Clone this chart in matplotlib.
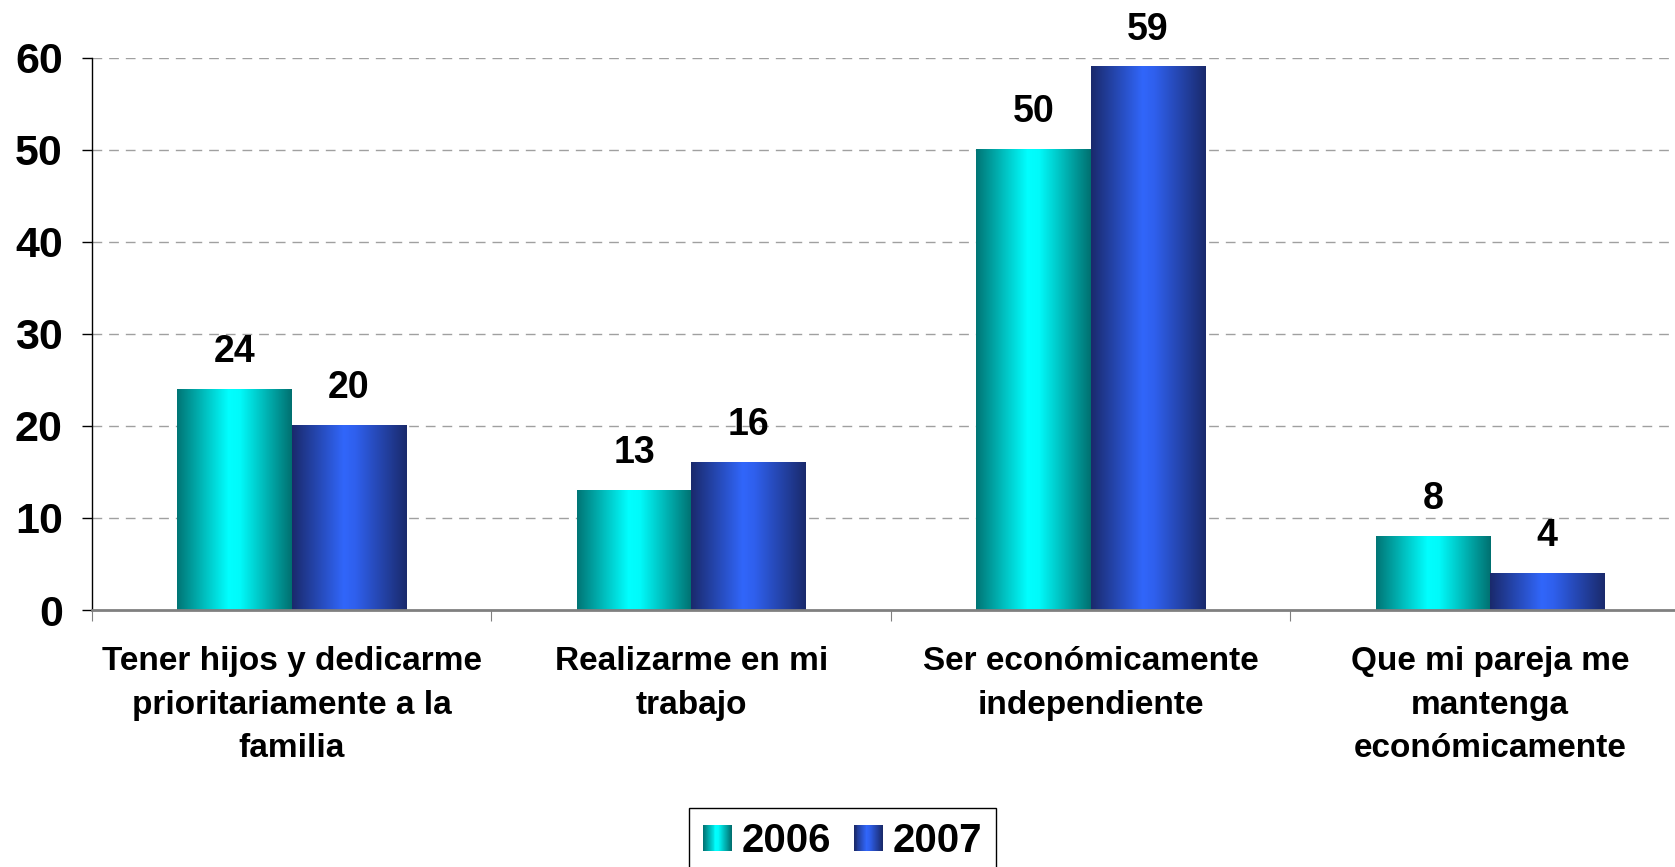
import numpy as np
import matplotlib.pyplot as plt
from matplotlib.colors import LinearSegmentedColormap
from matplotlib.patches import Rectangle
from matplotlib.legend_handler import HandlerPatch

# Datos del gráfico
categorias = ['Tener hijos y dedicarme\nprioritariamente a la\nfamilia',
              'Realizarme en mi\ntrabajo',
              'Ser económicamente\nindependiente',
              'Que mi pareja me\nmantenga\neconómicamente']
valores_2006 = [24, 13, 50, 8]
valores_2007 = [20, 16, 59, 4]
series = ['2006', '2007']
ticks_y = [0, 10, 20, 30, 40, 50, 60]

plt.rcParams['font.family'] = ['Liberation Sans', 'DejaVu Sans']
plt.rcParams['font.weight'] = 'bold'

# Degradados tipo "cilindro" de Excel
cmap_2006 = LinearSegmentedColormap.from_list(
    'c2006', [(0, '#007575'), (0.45, '#00ffff'), (0.55, '#00fafa'), (1, '#007070')])
cmap_2007 = LinearSegmentedColormap.from_list(
    'c2007', [(0, '#1a2a6c'), (0.45, '#3166fa'), (0.55, '#2f60ee'), (1, '#1a2a6c')])

fig = plt.figure(figsize=(16.75, 8.67), dpi=100)
ax = fig.add_axes([0.0549, 0.2964, 0.954, 0.637])

x = np.arange(len(categorias))
w = 0.286
barras_a = ax.bar(x - w / 2, valores_2006, w, color='none', zorder=3)
barras_b = ax.bar(x + w / 2, valores_2007, w, color='none', zorder=3)

grad = np.linspace(0, 1, 256).reshape(1, -1)
for barras, cmap in [(barras_a, cmap_2006), (barras_b, cmap_2007)]:
    for b in barras:
        x0, y0 = b.get_x(), b.get_y()
        ax.imshow(grad, cmap=cmap, aspect='auto', zorder=3,
                  extent=[x0, x0 + b.get_width(), y0, y0 + b.get_height()])
        ax.annotate(str(int(b.get_height())), (x0 + b.get_width() / 2, b.get_height()),
                    xytext=(0, 14), textcoords='offset points', ha='center', va='bottom',
                    fontsize=27, fontweight='bold', annotation_clip=False)

ax.set_xlim(-0.5, len(categorias) - 0.5)
ax.set_ylim(0, 60)
ax.set_yticks(ticks_y)
ax.set_yticklabels([str(t) for t in ticks_y], fontsize=31, fontweight='bold')
ax.set_xticks(np.arange(len(categorias) + 1) - 0.5)
ax.set_xticklabels([])
ax.set_xticks(x, minor=True)
ax.set_xticklabels(categorias, minor=True, fontsize=24, fontweight='bold',
                   linespacing=1.52)
ax.tick_params(axis='x', which='minor', length=0, pad=26)
ax.tick_params(axis='x', which='major', length=8, color='#808080', direction='out')
ax.tick_params(axis='y', length=7, width=1, color='black', pad=14, direction='out')

for t in ticks_y[1:]:
    ax.axhline(t, color='#a0a0a0', lw=1, ls=(0, (7, 5)), zorder=1)

for s in ['top', 'right']:
    ax.spines[s].set_visible(False)
ax.spines['left'].set_color('black')
ax.spines['left'].set_linewidth(1)
ax.spines['bottom'].set_color('#808080')
ax.spines['bottom'].set_linewidth(2)
ax.spines['bottom'].set_zorder(4)


class HandlerGradiente(HandlerPatch):
    def __init__(self, cmap):
        super().__init__()
        self.cmap = cmap

    def create_artists(self, legend, orig_handle, xdescent, ydescent, width, height,
                       fontsize, trans):
        n = 30
        arts = []
        for i in range(n):
            r = Rectangle((-xdescent + i * width / n, -ydescent), width / n * 1.05, height,
                          facecolor=self.cmap(i / (n - 1)), edgecolor='none', transform=trans)
            arts.append(r)
        return arts


h1 = Rectangle((0, 0), 1, 1)
h2 = Rectangle((0, 0), 1, 1)
leg = fig.legend([h1, h2], series, loc='upper center', bbox_to_anchor=(0.503, 0.068),
                 ncol=2, prop={'weight': 'bold', 'size': 29},
                 handler_map={h1: HandlerGradiente(cmap_2006), h2: HandlerGradiente(cmap_2007)},
                 handlelength=0.72, handleheight=0.64, handletextpad=0.25, columnspacing=0.55,
                 fancybox=False, edgecolor='black', framealpha=1, borderpad=0.35,
                 borderaxespad=0)
leg.get_frame().set_linewidth(1)

fig.savefig('out.png', dpi=100)
